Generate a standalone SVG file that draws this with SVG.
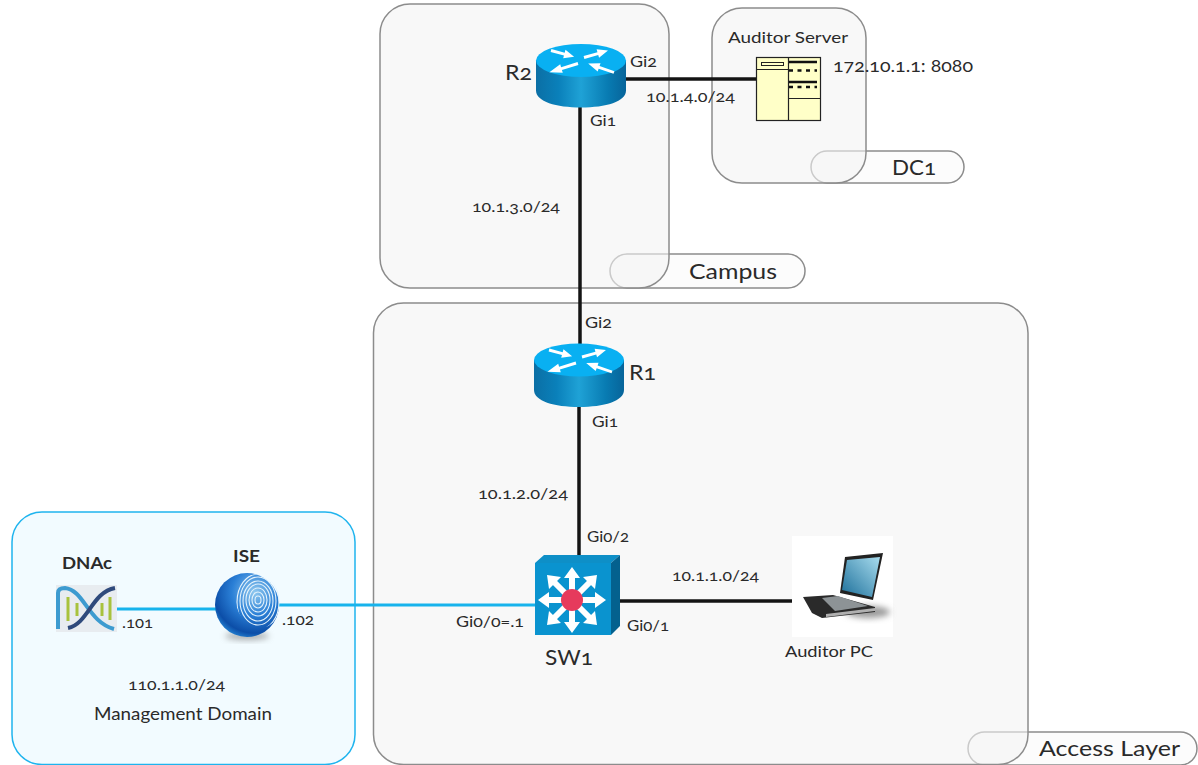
<svg xmlns="http://www.w3.org/2000/svg" width="1198" height="765" viewBox="0 0 1198 765">
<style>
text{font-family:"Lato","Open Sans","Liberation Sans",sans-serif;fill:#2a2a2a;font-size:16px;font-variant-numeric:oldstyle-nums;font-feature-settings:"onum"}
.big{font-size:21px}
.mid{font-size:17px}
.bold{font-size:17px;font-weight:700}
.zone{fill:#f4f4f4;fill-opacity:.6;stroke:#8c8c8c;stroke-width:1.5}
.pill{fill:#fcfcfc;stroke:#8c8c8c;stroke-width:1.5}
.k{stroke:#141414;stroke-width:3.5;fill:none}
.b{stroke:#17b3ec;stroke-width:3.2;fill:none}
.ar{fill:#fff}
</style>
<defs>
<linearGradient id="rb" x1="0" x2="1" y1="0" y2="0"><stop offset="0" stop-color="#0b6fa5"/><stop offset=".25" stop-color="#0a80ba"/><stop offset=".5" stop-color="#1fa2d6"/><stop offset=".8" stop-color="#087bb2"/><stop offset="1" stop-color="#07649a"/></linearGradient>
<radialGradient id="sph" cx=".62" cy=".3" r=".8"><stop offset="0" stop-color="#8fc8ef"/><stop offset=".45" stop-color="#2a7fd6"/><stop offset=".8" stop-color="#0c4ea8"/><stop offset="1" stop-color="#2f9be6"/></radialGradient>
<linearGradient id="scr" x1="1" x2="0" y1="0" y2="1"><stop offset="0" stop-color="#a8dcee"/><stop offset="1" stop-color="#1c6f9a"/></linearGradient>
<filter id="soft" x="-30%" y="-50%" width="160%" height="200%"><feGaussianBlur stdDeviation="3"/></filter>
<clipPath id="fp"><ellipse cx="258" cy="601" rx="22" ry="27" transform="rotate(-15 258 601)"/></clipPath>
<path id="arw" class="ar" d="M0-1.800H15V-5.500L26 0 15 5.500V1.800H0Z"/>
<g id="router">
<path d="M-45 0V30C-45 41-25 47 0 47S45 41 45 30V0Z" fill="url(#rb)"/>
<ellipse cx="0" cy="0" rx="45" ry="16.500" fill="#09b0f2"/>
<use href="#arw" transform="translate(-30 -10) rotate(15) scale(.92 .8)"/>
<use href="#arw" transform="translate(3 -3) rotate(-16) scale(.96 .8)"/>
<use href="#arw" transform="translate(-3 3) rotate(163) scale(1.150 .8)"/>
<use href="#arw" transform="translate(33 12) rotate(199) scale(1.050 .8)"/>
</g>
</defs>
<rect width="1198" height="765" fill="#fff"/>
<g id="zones">
<g id="zone-campus"><rect class="pill" x="610" y="254" width="195" height="34" rx="17"/><rect class="zone" x="380" y="4" width="289" height="284" rx="30"/><text x="689" y="279" class="big" textLength="88" lengthAdjust="spacingAndGlyphs">Campus</text></g>
<g id="zone-dc1"><rect class="pill" x="811" y="151" width="153" height="32" rx="16"/><rect class="zone" x="712" y="8" width="154" height="175" rx="30"/><text x="892" y="175" class="big" textLength="44" lengthAdjust="spacingAndGlyphs">DC1</text></g>
<g id="zone-access"><rect class="pill" x="968" y="732" width="229" height="33" rx="16.500"/><rect class="zone" x="373.500" y="303" width="654.500" height="461.500" rx="30"/><text x="1039" y="756" class="big" textLength="141" lengthAdjust="spacingAndGlyphs">Access Layer</text></g>
<g id="zone-mgmt"><rect x="12" y="512" width="343" height="252.500" rx="30" fill="#f2fbff" stroke="#1fb4ee" stroke-width="1.500"/><text x="94" y="720" class="mid" textLength="178" lengthAdjust="spacingAndGlyphs">Management Domain</text></g>
</g>
<g id="connectors">
<path class="k" d="M580 100V345"/>
<path class="k" d="M625 79H757"/>
<path class="k" d="M579 400V560"/>
<path class="k" d="M620 601H806"/>
<path class="b" d="M117 609H216"/>
<path class="b" d="M278 605H536"/>
</g>
<g id="r2"><use href="#router" x="581" y="60.500"/><text x="505" y="80" class="big" textLength="27" lengthAdjust="spacingAndGlyphs">R2</text><text x="630" y="67" textLength="27" lengthAdjust="spacingAndGlyphs">Gi2</text><text x="590" y="126" textLength="26" lengthAdjust="spacingAndGlyphs">Gi1</text></g>
<g id="r1"><use href="#router" x="579" y="360"/><text x="629" y="380" class="big" textLength="27" lengthAdjust="spacingAndGlyphs">R1</text><text x="585" y="328" textLength="27" lengthAdjust="spacingAndGlyphs">Gi2</text><text x="592" y="427" textLength="26" lengthAdjust="spacingAndGlyphs">Gi1</text></g>
<g id="server"><rect x="756.500" y="57.500" width="64" height="63" fill="#ffffc8" stroke="#222" stroke-width="1.200"/>
<path d="M788.500 57.500V120.500M756.500 69.500H788.500M788.500 98.500H820.500" stroke="#222" fill="none" stroke-width="1.200"/>
<rect x="761.500" y="62.500" width="22" height="3" fill="#ffffc8" stroke="#222"/>
<path d="M789 62H817M789 82H817" stroke="#111" stroke-width="2.600"/>
<path d="M789 70.500H817M789 87H817" stroke="#111" stroke-width="2.600" stroke-dasharray="4 4.500"/>
<text x="728" y="43" textLength="120" lengthAdjust="spacingAndGlyphs">Auditor Server</text><text x="833" y="72" style="font-size:18px" textLength="140" lengthAdjust="spacingAndGlyphs">172.10.1.1: 8080</text></g>
<g id="sw1">
<path d="M535 563l9-8h76l-9 8Z" fill="#0e8fc7"/><path d="M611 563l9-8v71l-9 9Z" fill="#04618e"/><rect x="535" y="563" width="76" height="72" fill="#0a93cf"/>
<path stroke="#fff" stroke-width="6" fill="none" d="M572 600V574M572 600V626M572 600H546M572 600H598M572 600L553 581M572 600L591 581M572 600L553 619M572 600L591 619"/>
<path fill="#fff" d="M572 567l8 11h-16ZM572 633l8-11h-16ZM538 600l11-8v16ZM606 600l-11-8v16ZM547 575l14 2-12 12ZM597 575l-14 2 12 12ZM547 625l14-2-12-12ZM597 625l-14-2 12-12Z"/>
<circle cx="572" cy="600" r="11" fill="#e63a5c"/>
<text x="545" y="665" class="big" textLength="48" lengthAdjust="spacingAndGlyphs">SW1</text><text x="587" y="542" textLength="42" lengthAdjust="spacingAndGlyphs">Gi0/2</text><text x="627" y="631" textLength="42" lengthAdjust="spacingAndGlyphs">Gi0/1</text><text x="456" y="627" textLength="68" lengthAdjust="spacingAndGlyphs">Gi0/0=.1</text></g>
<g id="pc"><rect x="792" y="536" width="101" height="101" fill="#fff"/>
<ellipse cx="868" cy="612" rx="22" ry="6" fill="#999" filter="url(#soft)"/>
<path d="M845 557l38-4-10 47-33-7Z" fill="#222"/><path d="M847 560l33-3-8 40-30-7Z" fill="url(#scr)"/>
<path d="M803 597l30-2 42 12v5l-53 6-10-5Z" fill="#2a2a2a"/><path d="M822 598l16-2 30 10-33 5Z" fill="#8d9396"/><path d="M826 614l49-6v3l-49 6Z" fill="#b0b0b0"/>
<text x="785" y="657" textLength="88" lengthAdjust="spacingAndGlyphs">Auditor PC</text></g>
<g id="dnac"><rect x="56" y="585" width="61" height="47" fill="#e8ecf0"/>
<path d="M58 629V593Q58 588 65 588C84 590 88 622 114 629" fill="none" stroke="#3d9bd0" stroke-width="4"/>
<path d="M68 628C88 624 92 592 115 588" fill="none" stroke="#2f4a7c" stroke-width="4"/>
<path d="M68 597V621M77 603V616M102 603V616M110 597V620" stroke="#a8c23c" stroke-width="3"/>
<text x="62" y="569" class="bold" textLength="50" lengthAdjust="spacingAndGlyphs">DNAc</text><text x="122" y="628" textLength="31" lengthAdjust="spacingAndGlyphs">.101</text></g>
<g id="ise"><ellipse cx="247" cy="636" rx="22" ry="4" fill="#777" opacity=".6" filter="url(#soft)"/><circle cx="247" cy="605" r="32" fill="url(#sph)"/>
<g fill="none" stroke="#e4f2fb" stroke-width="1.100" clip-path="url(#fp)"><ellipse cx="258" cy="600" rx="3" ry="4"/><ellipse cx="258" cy="600" rx="6" ry="8"/><ellipse cx="258" cy="600" rx="9" ry="12"/><ellipse cx="258" cy="600" rx="12" ry="16"/><ellipse cx="258" cy="601" rx="15" ry="20"/><ellipse cx="258" cy="601" rx="18" ry="24"/><ellipse cx="258" cy="602" rx="21" ry="28"/></g>
<text x="233" y="562" class="bold" textLength="27" lengthAdjust="spacingAndGlyphs">ISE</text><text x="282" y="625" textLength="32" lengthAdjust="spacingAndGlyphs">.102</text></g>
<g id="labels">
<text x="472" y="212" textLength="88" lengthAdjust="spacingAndGlyphs">10.1.3.0/24</text><text x="646" y="102" textLength="89" lengthAdjust="spacingAndGlyphs">10.1.4.0/24</text><text x="478" y="499" textLength="90" lengthAdjust="spacingAndGlyphs">10.1.2.0/24</text><text x="672" y="581" textLength="87" lengthAdjust="spacingAndGlyphs">10.1.1.0/24</text><text x="128" y="690" textLength="97" lengthAdjust="spacingAndGlyphs">110.1.1.0/24</text>
</g>
</svg>
